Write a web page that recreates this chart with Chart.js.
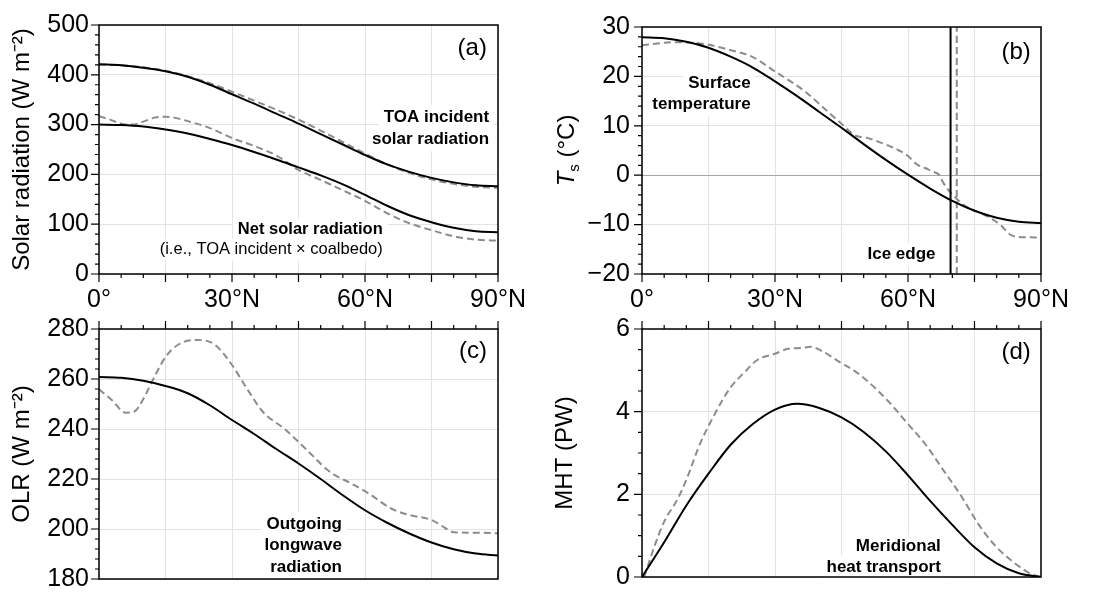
<!DOCTYPE html>
<html>
<head>
<meta charset="utf-8">
<script src="https://cdn.jsdelivr.net/npm/chart.js@4.4.1/dist/chart.umd.min.js"></script>
<style>
body { margin: 0; background: #fff; }
#wrap { position: relative; width: 1097px; height: 604px; }
#wrap canvas { position: absolute; left: 0; top: 0; }
</style>
</head>
<body>
<div id="wrap">
<canvas id="panelA" width="1097" height="604"></canvas>
<canvas id="panelB" width="1097" height="604"></canvas>
<canvas id="panelC" width="1097" height="604"></canvas>
<canvas id="panelD" width="1097" height="604"></canvas>
</div>
<script>
// latitudes (degrees N) for the model curves
const lat5 = [0, 5, 10, 15, 20, 25, 30, 35, 40, 45, 50, 55, 60, 65, 70, 75, 80, 85, 90];
const xTickLabels = {0: '0°', 30: '30°N', 60: '60°N', 90: '90°N'};

// (a) solar radiation (W m-2)
const toaModel = [421, 419, 414, 407, 396, 380, 361, 342, 322, 302, 281, 260, 239, 220, 205, 193, 184, 178, 176];
const toaObs   = [421, 419, 415, 408, 397, 383, 366, 348, 330, 310, 288, 265, 242, 220, 203, 190, 181, 175, 173];
const netModel = [300, 299, 296, 290, 282, 271, 259, 245, 230, 214, 198, 180, 159, 137, 118, 104, 93, 86, 84];
const netObsLat = [0, 2.5, 5, 7.5, 10, 12.5, 15, 17.5, 20, 25, 30, 35, 40, 45, 50, 55, 60, 65, 70, 75, 80, 85, 90];
const netObs    = [317, 310, 302, 300, 306, 314, 316, 313, 307, 293, 273, 257, 238, 209, 189, 168, 147, 122, 102, 88, 76, 69, 67];

// (b) surface temperature (deg C)
const tsModel = [27.9, 27.7, 27.0, 25.8, 24.0, 21.8, 19.0, 16.0, 12.8, 9.6, 6.3, 3.1, 0.1, -2.7, -5.2, -7.2, -8.6, -9.4, -9.7];
const tsObsLat = [0, 3, 7, 12, 15, 20, 25, 30, 34, 37, 41, 45, 48, 51, 55, 58, 60, 62, 64, 66, 67, 68, 69.5, 71, 73, 76, 79, 81, 83, 85, 90];
const tsObs    = [26.3, 26.6, 26.9, 26.8, 26.4, 25.3, 23.9, 21.0, 18.7, 16.8, 13.6, 10.4, 8.1, 7.5, 6.2, 5.0, 3.9, 2.2, 1.4, 0.6, 0.1, -1.6, -3.4, -4.8, -6.3, -7.5, -8.9, -10.2, -12.0, -12.5, -12.6];
const iceEdgeModel = 69.6;
const iceEdgeObs = 71.0;

// (c) outgoing longwave radiation (W m-2)
const olrModel = [260.8, 260.5, 259.3, 257.2, 254.3, 249.5, 243.6, 238.0, 232.0, 226.2, 220.0, 213.5, 207.5, 202.5, 198.2, 194.6, 191.9, 190.2, 189.4];
const olrObsLat = [0, 3, 6, 8, 10, 12, 15, 18, 22, 26, 30, 33, 37, 42, 47, 52, 57, 61, 66, 70, 75, 78, 80, 85, 90];
const olrObs    = [255.9, 251.4, 246.5, 247.0, 252.0, 259.1, 268.8, 273.9, 275.6, 273.9, 265.6, 257.2, 246.8, 239.8, 231.4, 223.0, 218.1, 214.0, 208.1, 205.6, 203.6, 200.5, 198.7, 198.5, 198.3];

// (d) meridional heat transport (PW)
const mhtModel = [0, 0.84, 1.73, 2.5, 3.2, 3.7, 4.05, 4.19, 4.09, 3.86, 3.51, 3.04, 2.46, 1.84, 1.26, 0.72, 0.33, 0.09, 0];
const mhtObsLat = [0.5, 3, 5, 8, 10, 13, 16, 20, 23, 26, 30, 33, 36, 38, 41, 45, 48, 52, 56, 60, 64, 68, 72, 76, 80, 85, 88, 90];
const mhtObs    = [0, 0.8, 1.34, 1.88, 2.35, 3.2, 3.86, 4.59, 4.94, 5.25, 5.4, 5.52, 5.54, 5.57, 5.44, 5.17, 4.98, 4.63, 4.2, 3.7, 3.2, 2.58, 1.96, 1.26, 0.72, 0.26, 0.06, 0];

const FONT = "'Liberation Sans', Arial, Helvetica, sans-serif";
Chart.defaults.font.family = FONT;
Chart.defaults.color = '#000';

function pts(xs, ys) {
    return xs.map((x, i) => ({x: x, y: ys[i]}));
}
function solid(data) {
    return {data: data, borderColor: '#000', borderWidth: 2, pointRadius: 0, fill: false, cubicInterpolationMode: 'monotone'};
}
function dashed(data) {
    return {data: data, borderColor: '#8c8c8c', borderWidth: 2, borderDash: [7, 4], pointRadius: 0, fill: false, cubicInterpolationMode: 'monotone'};
}

// box + major/minor ticks drawn outward
function frameTicks(o) {
    return {
        id: 'frameTicks',
        afterDraw(chart) {
            const ctx = chart.ctx, a = chart.chartArea, x = chart.scales.x, y = chart.scales.y;
            ctx.save();
            ctx.strokeStyle = '#000';
            ctx.lineWidth = 1.5;
            ctx.strokeRect(a.left, a.top, a.right - a.left, a.bottom - a.top);
            ctx.lineWidth = 1.2;
            ctx.beginPath();
            const ny = Math.round((y.max - y.min) / o.yMinor);
            for (let i = 0; i <= ny; i++) {
                const py = y.getPixelForValue(y.min + i * o.yMinor);
                const len = i % o.yPer === 0 ? 8 : 4;
                ctx.moveTo(a.left - len, py);
                ctx.lineTo(a.left, py);
            }
            for (let i = 0; i <= 18; i++) {
                const px = x.getPixelForValue(i * 5);
                const len = i % 3 === 0 ? 8 : 4;
                if (o.xSide === 'top') {
                    ctx.moveTo(px, a.top - len);
                    ctx.lineTo(px, a.top);
                } else {
                    ctx.moveTo(px, a.bottom);
                    ctx.lineTo(px, a.bottom + len);
                }
            }
            ctx.stroke();
            ctx.restore();
        }
    };
}

// text labels placed in data units, with a white box behind
function notes(items) {
    return {
        id: 'notes',
        beforeDatasetsDraw(chart) {
            const ctx = chart.ctx, sx = chart.scales.x, sy = chart.scales.y;
            items.forEach(n => {
                const x = sx.getPixelForValue(n.lat);
                const y0 = sy.getPixelForValue(n.val);
                ctx.save();
                ctx.textBaseline = 'middle';
                ctx.textAlign = n.align;
                n.lines.forEach((line, i) => {
                    ctx.font = (line.b ? 'bold ' : '') + n.size + 'px ' + FONT;
                    const w = ctx.measureText(line.t).width;
                    const ly = y0 + i * (n.gap || 0);
                    const left = n.align === 'right' ? x - w : x - w / 2;
                    if (n.box) {
                        ctx.fillStyle = '#fff';
                        ctx.fillRect(left - 5, ly - n.gap / 2 - 1, w + 10, n.gap + 2);
                    }
                    ctx.fillStyle = '#000';
                    ctx.fillText(line.t, x, ly);
                });
                ctx.restore();
            });
        }
    };
}

// T_s (°C) axis title with italic T and subscript s
const tsTitle = {
    id: 'tsTitle',
    afterDraw(chart) {
        const ctx = chart.ctx, a = chart.chartArea;
        ctx.save();
        ctx.translate(a.left - 76, (a.top + a.bottom) / 2);
        ctx.rotate(-Math.PI / 2);
        ctx.fillStyle = '#000';
        ctx.textBaseline = 'alphabetic';
        ctx.textAlign = 'left';
        const parts = [
            {t: 'T', f: 'italic 24px ' + FONT, dy: 0},
            {t: 's', f: '15px ' + FONT, dy: 5},
            {t: ' (°C)', f: '24px ' + FONT, dy: 0}
        ];
        let total = 0;
        parts.forEach(p => { ctx.font = p.f; p.w = ctx.measureText(p.t).width; total += p.w; });
        let cx = -total / 2;
        parts.forEach(p => {
            ctx.font = p.f;
            ctx.fillText(p.t, cx, 8 + p.dy);
            cx += p.w;
        });
        ctx.restore();
    }
};

function makePanel(id, p) {
    return new Chart(document.getElementById(id), {
        type: 'line',
        data: {datasets: p.datasets},
        options: {
            responsive: false,
            animation: false,
            devicePixelRatio: 1,
            layout: {padding: p.pad},
            plugins: {legend: {display: false}, tooltip: {enabled: false}},
            scales: {
                x: {
                    type: 'linear', min: 0, max: 90,
                    afterFit: s => { s.height = p.xH; },
                    ticks: {
                        display: p.xLabels, stepSize: 15, autoSkip: false, maxRotation: 0,
                        padding: 11, font: {size: 25},
                        callback: v => (xTickLabels[v] !== undefined ? xTickLabels[v] : '')
                    },
                    grid: {color: '#e3e3e3', drawTicks: false},
                    border: {display: false}
                },
                y: {
                    type: 'linear', min: p.yMin, max: p.yMax,
                    afterFit: s => { s.width = p.yW; },
                    ticks: {
                        stepSize: p.yStep, padding: p.yPad, font: {size: 25},
                        callback: v => (v < 0 ? '\u2212' + (-v) : '' + v)
                    },
                    grid: {color: p.gridColor || '#e3e3e3', drawTicks: false},
                    border: {display: false},
                    title: {display: !!p.yTitle, text: p.yTitle, font: {size: 24}, padding: 0}
                }
            }
        },
        plugins: [notes(p.notes), frameTicks(p.ticks)].concat(p.extra || [])
    });
}

makePanel('panelA', {
    datasets: [solid(pts(lat5, toaModel)), solid(pts(lat5, netModel)),
               dashed(pts(lat5, toaObs)), dashed(pts(netObsLat, netObs))],
    pad: {left: 8, top: 15, right: 599, bottom: 290},
    xH: 40, xLabels: true, yW: 91, yPad: 10,
    yMin: 0, yMax: 500, yStep: 100,
    yTitle: 'Solar radiation (W m\u207B\u00B2)',
    ticks: {yMinor: 20, yPer: 5, xSide: 'bottom'},
    notes: [
        {lat: 87.5, val: 454, align: 'right', size: 24, lines: [{t: '(a)'}]},
        {lat: 88, val: 315, align: 'right', size: 17, gap: 22, box: true,
         lines: [{t: 'TOA incident', b: true}, {t: 'solar radiation', b: true}]},
        {lat: 64, val: 89, align: 'right', size: 16.5, gap: 20, box: true,
         lines: [{t: 'Net solar radiation', b: true}, {t: '(i.e., TOA incident \u00D7 coalbedo)'}]}
    ]
});

makePanel('panelB', {
    datasets: [solid(pts(lat5, tsModel)),
               solid([{x: iceEdgeModel, y: -20}, {x: iceEdgeModel, y: 30}]),
               dashed(pts(tsObsLat, tsObs)),
               dashed([{x: iceEdgeObs, y: -20}, {x: iceEdgeObs, y: 30}])],
    pad: {left: 548, top: 15, right: 56, bottom: 290},
    xH: 40, xLabels: true, yW: 94, yPad: 12,
    yMin: -20, yMax: 30, yStep: 10,
    gridColor: ctx => (ctx.tick && ctx.tick.value === 0 ? '#a6a6a6' : '#e3e3e3'),
    ticks: {yMinor: 2, yPer: 5, xSide: 'bottom'},
    extra: [tsTitle],
    notes: [
        {lat: 87.7, val: 24.8, align: 'right', size: 24, lines: [{t: '(b)'}]},
        {lat: 24.5, val: 18.5, align: 'right', size: 17, gap: 21, box: true,
         lines: [{t: 'Surface', b: true}, {t: 'temperature', b: true}]},
        {lat: 66.2, val: -16.1, align: 'right', size: 17, gap: 21, box: true,
         lines: [{t: 'Ice edge', b: true}]}
    ]
});

makePanel('panelC', {
    datasets: [solid(pts(lat5, olrModel)), dashed(pts(olrObsLat, olrObs))],
    pad: {left: 8, top: 329, right: 599, bottom: 16},
    xH: 0, xLabels: false, yW: 91, yPad: 10,
    yMin: 180, yMax: 280, yStep: 20,
    yTitle: 'OLR (W m\u207B\u00B2)',
    ticks: {yMinor: 4, yPer: 5, xSide: 'top'},
    notes: [
        {lat: 87.5, val: 271.2, align: 'right', size: 24, lines: [{t: '(c)'}]},
        {lat: 54.8, val: 202, align: 'right', size: 17, gap: 21.5, box: true,
         lines: [{t: 'Outgoing', b: true}, {t: 'longwave', b: true}, {t: 'radiation', b: true}]}
    ]
});

makePanel('panelD', {
    datasets: [solid(pts(lat5, mhtModel)), dashed(pts(mhtObsLat, mhtObs))],
    pad: {left: 551, top: 329, right: 56, bottom: 16},
    xH: 0, xLabels: false, yW: 91, yPad: 12,
    yMin: 0, yMax: 6, yStep: 2,
    yTitle: 'MHT (PW)',
    ticks: {yMinor: 0.5, yPer: 4, xSide: 'top'},
    notes: [
        {lat: 87.7, val: 5.44, align: 'right', size: 24, lines: [{t: '(d)'}]},
        {lat: 67.4, val: 0.74, align: 'right', size: 17, gap: 20.5, box: true,
         lines: [{t: 'Meridional', b: true}, {t: 'heat transport', b: true}]}
    ]
});
</script>
</body>
</html>
